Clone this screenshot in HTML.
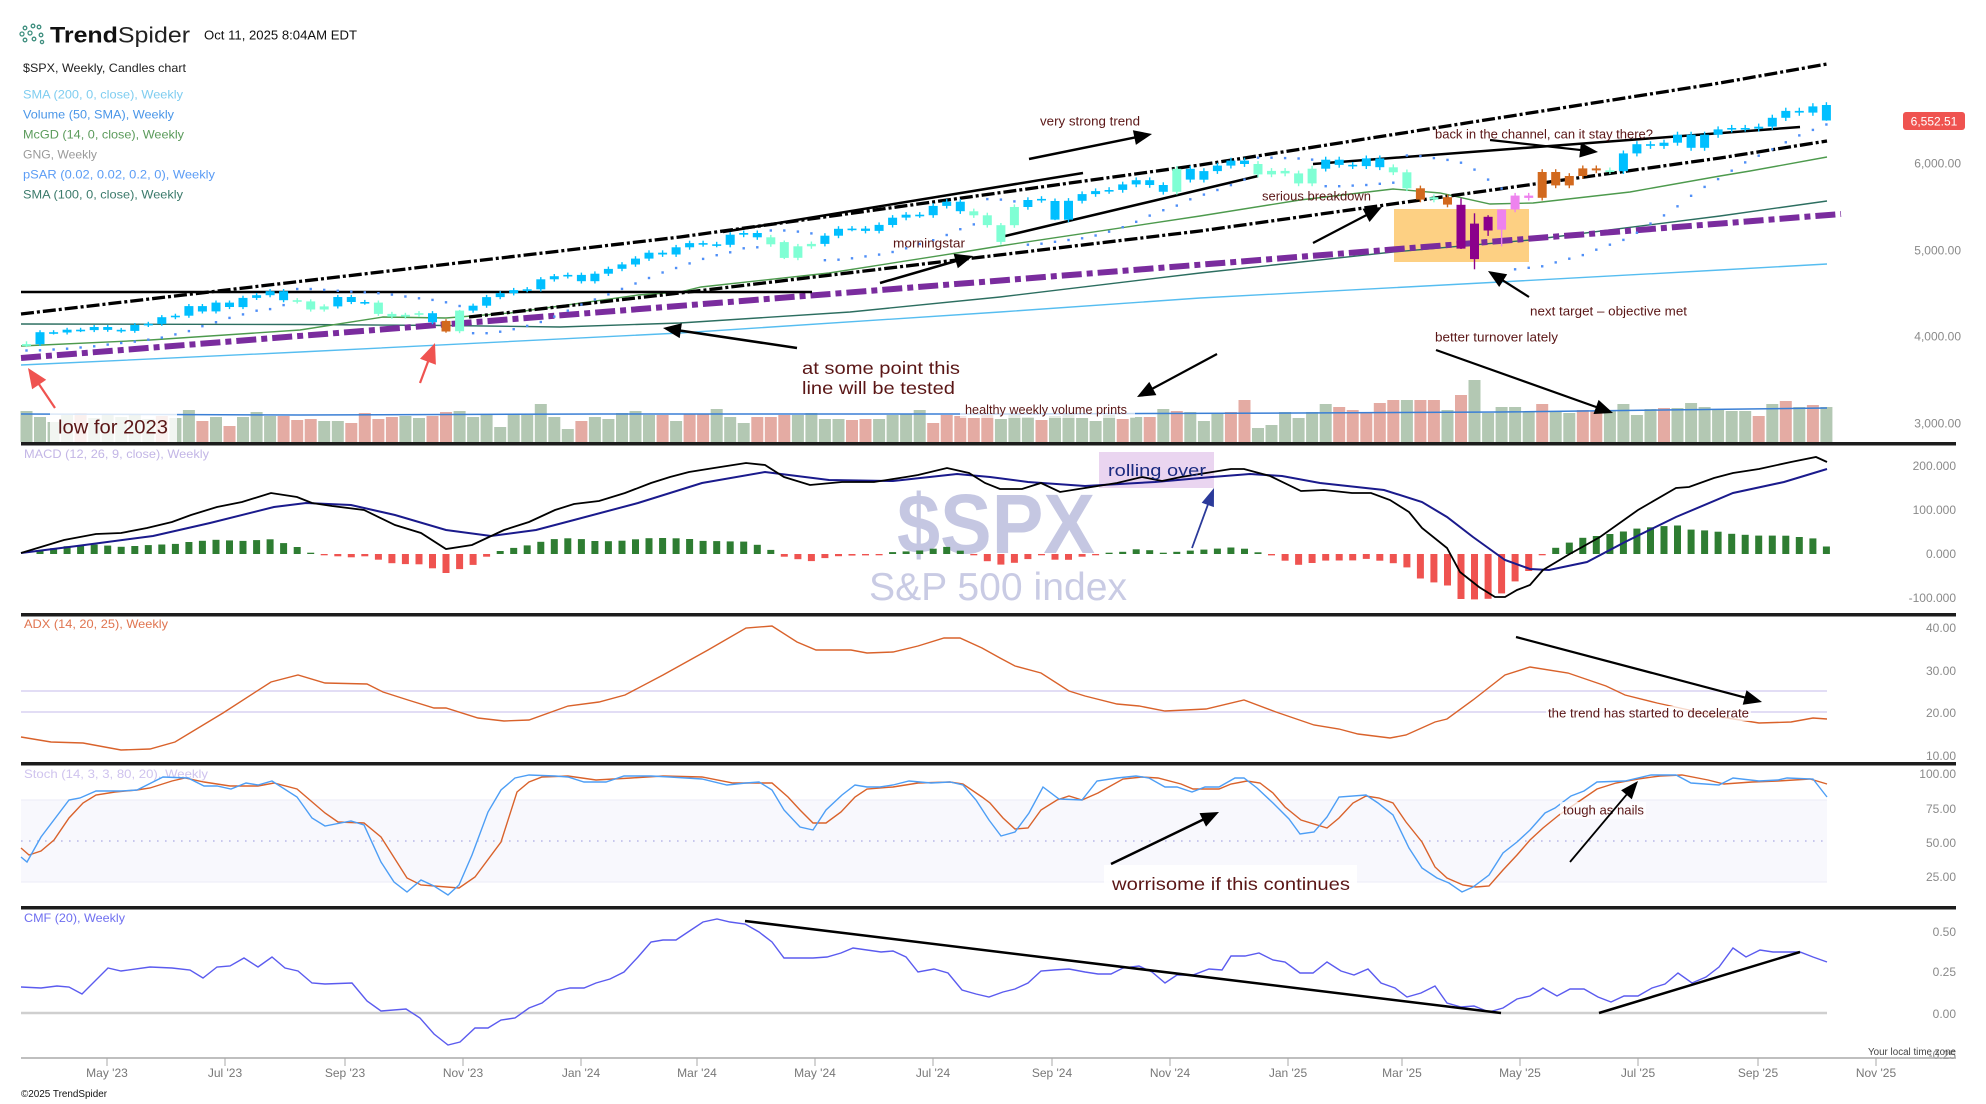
<!DOCTYPE html>
<html><head><meta charset="utf-8">
<style>
html,body{margin:0;padding:0;background:#fff;}
svg{display:block;font-family:"Liberation Sans",Arial,sans-serif;}
.ann{fill:#5a1616;font-size:12.5px;}
.big{fill:#5a1616;font-size:17.5px;}
.ax{fill:#8a8a8a;font-size:12px;}
.dt{fill:#777;font-size:12px;text-anchor:middle;}
</style></head><body>
<svg id="c" width="1986" height="1104" viewBox="0 0 1986 1104" xmlns="http://www.w3.org/2000/svg">
<rect width="1986" height="1104" fill="#fff"/>

<!-- header -->
<g fill="none" stroke="#3f8f7f" stroke-width="1.3">
<circle cx="22" cy="34" r="2"/><circle cx="25" cy="28" r="1.8"/><circle cx="25" cy="40" r="1.8"/>
<circle cx="30" cy="33" r="2"/><circle cx="33" cy="26" r="1.8"/><circle cx="34" cy="39" r="1.8"/>
<circle cx="39" cy="27" r="1.8"/><circle cx="41" cy="35" r="1.8"/><circle cx="42" cy="42" r="1.6"/>
</g>
<text x="50" y="42.5" font-size="22" fill="#111" textLength="140" lengthAdjust="spacingAndGlyphs"><tspan font-weight="bold">Trend</tspan><tspan fill="#222">Spider</tspan></text>
<text x="204" y="39.5" font-size="12.5" fill="#111" textLength="153" lengthAdjust="spacingAndGlyphs">Oct 11, 2025 8:04AM EDT</text>
<text x="23" y="72" font-size="12" fill="#222" textLength="163" lengthAdjust="spacingAndGlyphs">$SPX, Weekly, Candles chart</text>
<text x="23" y="98.5" font-size="12" fill="#7fcdf0" textLength="160" lengthAdjust="spacingAndGlyphs">SMA (200, 0, close), Weekly</text>
<text x="23" y="118.5" font-size="12" fill="#4a96e8" textLength="151" lengthAdjust="spacingAndGlyphs">Volume (50, SMA), Weekly</text>
<text x="23" y="138.5" font-size="12" fill="#5b9b5b" textLength="161" lengthAdjust="spacingAndGlyphs">McGD (14, 0, close), Weekly</text>
<text x="23" y="158.5" font-size="12" fill="#9a9a9a" textLength="74" lengthAdjust="spacingAndGlyphs">GNG, Weekly</text>
<text x="23" y="178.5" font-size="12" fill="#5b9cf5" textLength="192" lengthAdjust="spacingAndGlyphs">pSAR (0.02, 0.02, 0.2, 0), Weekly</text>
<text x="23" y="198.5" font-size="12" fill="#3b7a6b" textLength="160" lengthAdjust="spacingAndGlyphs">SMA (100, 0, close), Weekly</text>

<!-- main chart -->
<rect x="1394" y="209" width="135" height="53" fill="#fdd083"/>
<polyline fill="none" stroke="#56bdf0" stroke-width="1.4" points="21,365 300,352 680,333 1000,312 1200,298 1500,282 1720,270 1827,264"/>
<polyline fill="none" stroke="#2c6e60" stroke-width="1.4" points="21,324 300,324.5 446,325.5 560,327 680,323 850,312 1000,297 1200,273 1393,252 1530,240 1720,216 1827,201"/>
<polyline fill="none" stroke="#4d9a4d" stroke-width="1.4" points="21,346 150,340 300,330 383,317 446,318 510,313 638,295 680,292 701,287 829,273 963,252 1000,246 1200,216 1300,200 1393,189 1440,193 1490,204 1533,203 1630,192 1720,176 1750,171 1827,157"/>
<line x1="21" y1="358" x2="1841" y2="214" stroke="#7a2c9e" stroke-width="6" stroke-dasharray="20 5 6 5"/>
<polyline fill="none" stroke="#000" stroke-width="3.3" stroke-dasharray="13 3 3 3" points="21,314 680,237 1200,165 1720,83 1827,64"/>
<polyline fill="none" stroke="#000" stroke-width="3.3" stroke-dasharray="13 3 3 3" points="469,317 680,293 1200,231 1720,158 1827,141"/>
<g stroke="#000" stroke-width="2.5">
<line x1="21" y1="292" x2="812" y2="292"/>
<line x1="723" y1="232" x2="1083" y2="173"/>
<line x1="1001" y1="237" x2="1258" y2="176"/>
<line x1="1313" y1="164" x2="1800" y2="127"/>
</g>
<g id="vol"></g>
<polyline fill="none" stroke="#3a7fd5" stroke-width="1.5" points="21,414 300,415 600,414 1000,414 1300,413 1500,412 1827,408"/>
<g id="cand"></g>
<g id="psar" fill="#4f8ff7"></g>

<rect x="50" y="413" width="127" height="30" fill="#fff" fill-opacity="0.82"/>
<text x="58" y="433.5" fill="#5a1616" font-size="19" textLength="110" lengthAdjust="spacingAndGlyphs">low for 2023</text>
<rect x="960" y="402" width="175" height="16" fill="#fff" fill-opacity="0.7"/>
<text x="965" y="414" class="ann" textLength="162" lengthAdjust="spacingAndGlyphs">healthy weekly volume prints</text>
<text x="1040" y="125.5" class="ann" textLength="100" lengthAdjust="spacingAndGlyphs">very strong trend</text>
<text x="893" y="247.5" class="ann" textLength="72" lengthAdjust="spacingAndGlyphs">morningstar</text>
<text x="1262" y="200.5" class="ann" textLength="109" lengthAdjust="spacingAndGlyphs">serious breakdown</text>
<text x="1435" y="138.5" class="ann" textLength="218" lengthAdjust="spacingAndGlyphs">back in the channel, can it stay there?</text>
<text x="1530" y="315.5" class="ann" textLength="157" lengthAdjust="spacingAndGlyphs">next target – objective met</text>
<text x="1435" y="341.5" class="ann" textLength="123" lengthAdjust="spacingAndGlyphs">better turnover lately</text>
<text x="802" y="374" class="big" textLength="158" lengthAdjust="spacingAndGlyphs">at some point this</text>
<text x="802" y="394" class="big" textLength="153" lengthAdjust="spacingAndGlyphs">line will be tested</text>

<text x="1961" y="167.5" class="ax" text-anchor="end">6,000.00</text>
<text x="1961" y="254.5" class="ax" text-anchor="end">5,000.00</text>
<text x="1961" y="340.5" class="ax" text-anchor="end">4,000.00</text>
<text x="1961" y="427.5" class="ax" text-anchor="end">3,000.00</text>
<rect x="1903" y="112" width="62" height="18" rx="3" fill="#ef5350"/>
<text x="1934" y="125.5" font-size="12" fill="#fff" text-anchor="middle">6,552.51</text>

<!-- MACD -->
<text x="24" y="458" font-size="12" fill="#c3b6e6" textLength="185" lengthAdjust="spacingAndGlyphs">MACD (12, 26, 9, close), Weekly</text>
<text x="897" y="553" font-size="84" font-weight="bold" fill="#c5c7e2" textLength="198" lengthAdjust="spacingAndGlyphs">$SPX</text>
<text x="869" y="600" font-size="39" fill="#c9cbe4" textLength="258" lengthAdjust="spacingAndGlyphs">S&amp;P 500 index</text>
<rect x="1099" y="452" width="115" height="36" fill="#ead5f0"/>
<g id="hist"></g>
<polyline id="sig" fill="none" stroke="#1a1a8c" stroke-width="2" points="21,553 77,546 153,536 210,523 274,507 306,503 351,505 395,515 446,530 491,536 536,530 574,520 638,503 702,483 765,472 829,480 893,481 957,474 990,477 1028,482 1085,486 1155,482 1212,477 1250,474 1282,476 1320,483 1384,490 1422,502 1447,517 1473,537 1505,560 1530,569 1549,570 1587,562 1625,542 1676,517 1733,493 1784,482 1827,469"/>
<polyline id="mac" fill="none" stroke="#000" stroke-width="1.8" points="21,553 64,540 96,534 121,533 147,528 172,522 191,515 217,507 242,502 271,493 297,497 312,503 332,506 364,510 395,525 421,533 446,549 472,545 504,530 529,522 555,510 574,504 599,501 625,493 651,483 670,477 689,472 714,468 746,463 765,465 784,477 810,485 842,482 874,482 906,477 918,475 947,468 969,473 985,483 1000,489 1022,489 1041,483 1060,492 1085,488 1117,483 1142,477 1162,481 1181,477 1206,473 1231,469 1244,469 1270,476 1301,491 1324,490 1352,493 1371,493 1390,500 1409,512 1422,528 1447,548 1460,572 1479,587 1495,597 1505,597 1517,590 1530,585 1543,570 1568,555 1600,537 1638,510 1676,488 1689,487 1714,478 1733,473 1759,469 1791,462 1816,457 1827,462"/>
<text x="1108" y="476" font-size="17" fill="#1a2a80" textLength="98" lengthAdjust="spacingAndGlyphs">rolling over</text>
<text x="1956" y="470" class="ax" text-anchor="end">200.000</text>
<text x="1956" y="514" class="ax" text-anchor="end">100.000</text>
<text x="1956" y="558" class="ax" text-anchor="end">0.000</text>
<text x="1956" y="602" class="ax" text-anchor="end">-100.000</text>

<!-- ADX -->
<text x="24" y="628" font-size="12" fill="#e07550" textLength="144" lengthAdjust="spacingAndGlyphs">ADX (14, 20, 25), Weekly</text>
<line x1="21" y1="691" x2="1827" y2="691" stroke="#d9d2f2" stroke-width="1.5"/>
<line x1="21" y1="712" x2="1827" y2="712" stroke="#d9d2f2" stroke-width="1.5"/>
<polyline fill="none" stroke="#d9622b" stroke-width="1.4" points="21,737 51,742 83,743 121,750 150,749 175,742 223,713 271,682 298,675 325,683 367,684 383,692 408,700 434,708 446,708 478,718 504,721 529,720 568,706 599,702 625,695 663,675 708,650 746,628 772,626 797,642 816,650 851,650 867,653 893,652 918,646 944,638 960,638 982,648 1000,658 1015,666 1041,673 1069,691 1085,696 1117,704 1139,706 1165,711 1206,709 1244,700 1276,712 1314,725 1339,729 1358,734 1390,738 1406,735 1435,722 1447,719 1473,700 1505,675 1530,667 1568,673 1606,686 1625,695 1657,703 1689,710 1721,717 1759,723 1791,722 1813,718 1827,719"/>
<rect x="1546" y="706" width="205" height="15" fill="#fff" fill-opacity="0.75"/>
<text x="1548" y="717.5" class="ann" textLength="201" lengthAdjust="spacingAndGlyphs">the trend has started to decelerate</text>
<text x="1956" y="632" class="ax" text-anchor="end">40.00</text>
<text x="1956" y="675" class="ax" text-anchor="end">30.00</text>
<text x="1956" y="717" class="ax" text-anchor="end">20.00</text>
<text x="1956" y="760" class="ax" text-anchor="end">10.00</text>

<!-- Stoch -->
<rect x="21" y="800" width="1806" height="82" fill="#f8f8fd"/>
<line x1="21" y1="800" x2="1827" y2="800" stroke="#ebebf7" stroke-width="1"/>
<line x1="21" y1="882" x2="1827" y2="882" stroke="#ebebf7" stroke-width="1"/>
<line x1="21" y1="841" x2="1827" y2="841" stroke="#b8b8e8" stroke-width="1.6" stroke-dasharray="1.6 6.4"/>
<text x="24" y="778" font-size="12" fill="#cfc3ee" textLength="184" lengthAdjust="spacingAndGlyphs">Stoch (14, 3, 3, 80, 20), Weekly</text>
<polyline fill="none" stroke="#d9622b" stroke-width="1.4" points="21,848 29,855 41,851 54,840 69,818 83,803 96,795 115,792 137,790 150,788 172,781 185,778 204,782 230,786 258,786 274,783 297,789 325,813 338,822 364,823 381,837 407,878 421,885 459,888 475,877 501,842 517,792 529,782 542,777 568,776 596,780 631,778 663,776 702,777 733,783 772,783 788,797 800,810 813,823 826,823 841,812 855,797 867,789 893,787 918,783 950,782 963,784 982,797 990,803 1003,818 1015,829 1028,828 1041,810 1057,800 1069,796 1082,800 1098,793 1123,779 1142,777 1158,778 1181,784 1193,789 1219,789 1231,784 1247,781 1260,783 1273,793 1285,807 1301,820 1327,828 1339,818 1353,803 1366,796 1379,798 1393,803 1406,822 1422,842 1435,867 1447,878 1463,885 1476,887 1489,886 1503,870 1517,855 1530,840 1543,828 1559,815 1581,800 1597,789 1616,783 1638,779 1660,776 1682,775 1708,780 1724,784 1752,782 1778,781 1810,779 1827,784"/>
<polyline fill="none" stroke="#4d9ef5" stroke-width="1.4" points="21,857 27,862 41,837 69,800 80,798 96,791 121,791 137,790 163,777 188,778 204,786 217,786 231,789 246,783 258,785 272,781 297,797 312,818 325,826 351,821 364,825 381,862 394,882 407,892 421,880 434,886 448,895 459,885 472,855 488,812 501,790 515,778 529,775 555,776 568,777 584,782 606,782 624,776 651,776 670,777 702,779 727,785 746,783 759,782 772,790 784,810 800,827 813,830 826,810 842,795 855,785 867,787 880,787 893,785 909,781 931,783 950,782 963,785 976,800 989,820 1001,836 1015,832 1029,813 1043,787 1059,799 1082,800 1097,781 1117,778 1136,776 1149,778 1165,787 1177,787 1192,792 1205,787 1219,787 1235,778 1244,778 1257,788 1273,803 1289,819 1300,834 1314,832 1327,817 1339,797 1366,795 1378,803 1393,815 1409,848 1422,868 1437,878 1449,883 1462,892 1473,887 1489,875 1503,853 1517,842 1530,830 1545,813 1555,808 1571,796 1584,791 1597,782 1625,781 1651,775 1676,775 1691,783 1719,785 1733,778 1759,781 1778,780 1787,778 1813,779 1827,797"/>
<rect x="1104" y="865" width="253" height="28" fill="#fff" fill-opacity="0.9"/>
<text x="1112" y="890" class="big" textLength="238" lengthAdjust="spacingAndGlyphs">worrisome if this continues</text>
<rect x="1560" y="802" width="86" height="17" fill="#fff" fill-opacity="0.75"/>
<text x="1563" y="814.5" class="ann" textLength="81" lengthAdjust="spacingAndGlyphs">tough as nails</text>
<text x="1956" y="778" class="ax" text-anchor="end">100.00</text>
<text x="1956" y="813" class="ax" text-anchor="end">75.00</text>
<text x="1956" y="847" class="ax" text-anchor="end">50.00</text>
<text x="1956" y="881" class="ax" text-anchor="end">25.00</text>

<!-- CMF -->
<text x="24" y="922" font-size="12" fill="#6f6ff0" textLength="101" lengthAdjust="spacingAndGlyphs">CMF (20), Weekly</text>
<line x1="21" y1="1013" x2="1827" y2="1013" stroke="#cfcfcf" stroke-width="2.5"/>
<polyline fill="none" stroke="#5b5bef" stroke-width="1.4" points="21,987 41,988 57,986 69,987 82,994 96,980 108,968 121,971 150,967 172,968 190,970 203,978 217,967 230,966 244,958 258,967 272,957 285,968 298,971 312,983 325,984 352,983 367,1001 381,1011 406,1009 420,1018 434,1034 448,1045 460,1042 475,1028 488,1028 501,1020 515,1018 529,1008 542,1003 557,991 570,988 584,988 596,983 610,979 624,972 638,957 651,942 663,940 676,940 691,930 703,922 717,919 730,922 745,924 759,932 772,942 784,958 800,958 813,958 827,957 841,953 853,948 867,950 881,952 893,951 906,957 918,972 934,969 948,973 962,990 976,994 989,997 1003,992 1015,989 1028,983 1041,971 1054,970 1069,969 1085,972 1098,974 1111,974 1123,968 1139,966 1152,972 1165,983 1177,975 1193,975 1209,969 1222,970 1231,956 1245,956 1259,953 1273,960 1285,962 1300,973 1313,973 1327,962 1341,971 1354,975 1368,969 1381,983 1395,988 1407,997 1421,993 1435,986 1447,1003 1461,1007 1474,1006 1489,1012 1503,1008 1517,999 1530,996 1543,988 1557,996 1570,989 1584,989 1598,997 1611,1002 1624,996 1638,996 1652,988 1665,984 1678,973 1692,983 1706,977 1719,967 1733,948 1746,957 1760,950 1773,952 1786,952 1800,952 1813,957 1827,962"/>
<line x1="745" y1="921" x2="1501" y2="1013" stroke="#000" stroke-width="2.5"/>
<line x1="1599" y1="1013" x2="1800" y2="952" stroke="#000" stroke-width="2.5"/>
<text x="1956" y="936" class="ax" text-anchor="end">0.50</text>
<text x="1956" y="976" class="ax" text-anchor="end">0.25</text>
<text x="1956" y="1018" class="ax" text-anchor="end">0.00</text>
<text x="1956" y="1059" class="ax" text-anchor="end">-0.25</text>
<text x="1956" y="1055" font-size="10" fill="#444" text-anchor="end" textLength="88" lengthAdjust="spacingAndGlyphs">Your local time zone</text>

<!-- separators -->
<g fill="#1c1c1c">
<rect x="21" y="442" width="1935" height="3.5"/>
<rect x="21" y="613" width="1935" height="3.5"/>
<rect x="21" y="762" width="1935" height="3.5"/>
<rect x="21" y="906" width="1935" height="3.5"/>
</g>

<!-- x axis -->
<line x1="21" y1="1058" x2="1956" y2="1058" stroke="#aaa" stroke-width="1.5"/>
<g stroke="#aaa" stroke-width="1">
<line x1="107" y1="1058" x2="107" y2="1066"/><line x1="225" y1="1058" x2="225" y2="1066"/><line x1="345" y1="1058" x2="345" y2="1066"/><line x1="463" y1="1058" x2="463" y2="1066"/><line x1="581" y1="1058" x2="581" y2="1066"/><line x1="697" y1="1058" x2="697" y2="1066"/><line x1="815" y1="1058" x2="815" y2="1066"/><line x1="933" y1="1058" x2="933" y2="1066"/><line x1="1052" y1="1058" x2="1052" y2="1066"/><line x1="1170" y1="1058" x2="1170" y2="1066"/><line x1="1288" y1="1058" x2="1288" y2="1066"/><line x1="1402" y1="1058" x2="1402" y2="1066"/><line x1="1520" y1="1058" x2="1520" y2="1066"/><line x1="1638" y1="1058" x2="1638" y2="1066"/><line x1="1758" y1="1058" x2="1758" y2="1066"/><line x1="1876" y1="1058" x2="1876" y2="1066"/>
</g>
<text x="107" y="1077" class="dt">May '23</text><text x="225" y="1077" class="dt">Jul '23</text><text x="345" y="1077" class="dt">Sep '23</text><text x="463" y="1077" class="dt">Nov '23</text><text x="581" y="1077" class="dt">Jan '24</text><text x="697" y="1077" class="dt">Mar '24</text><text x="815" y="1077" class="dt">May '24</text><text x="933" y="1077" class="dt">Jul '24</text><text x="1052" y="1077" class="dt">Sep '24</text><text x="1170" y="1077" class="dt">Nov '24</text><text x="1288" y="1077" class="dt">Jan '25</text><text x="1402" y="1077" class="dt">Mar '25</text><text x="1520" y="1077" class="dt">May '25</text><text x="1638" y="1077" class="dt">Jul '25</text><text x="1758" y="1077" class="dt">Sep '25</text><text x="1876" y="1077" class="dt">Nov '25</text>
<text x="21" y="1097" font-size="10.5" fill="#111" textLength="86" lengthAdjust="spacingAndGlyphs">©2025 TrendSpider</text>

<g id="arrows"></g>
</svg>
<script>
(function(){
var NS="http://www.w3.org/2000/svg";
function el(p,t,a){var e=document.createElementNS(NS,t);for(var k in a)e.setAttribute(k,a[k]);p.appendChild(e);return e;}
var C=[3971,4109,4105,4137,4133,4169,4136,4124,4192,4205,4282,4299,4410,4348,4450,4399,4505,4536,4582,4478,4464,4370,4406,4515,4457,4450,4320,4288,4309,4328,4224,4117,4358,4415,4514,4559,4595,4604,4719,4755,4770,4697,4784,4840,4891,4959,5027,5006,5089,5137,5124,5117,5234,5254,5204,5123,4967,5100,5128,5223,5303,5305,5278,5347,5431,5465,5460,5567,5615,5505,5459,5346,5344,5554,5635,5648,5408,5626,5703,5738,5751,5815,5864,5808,5729,5995,5870,5969,6032,6090,6051,5931,5971,5942,5827,5997,6101,6041,6026,6115,6013,5955,5770,5639,5667,5581,5074,5363,5283,5525,5686,5660,5958,5803,5912,6000,5977,5968,6173,6279,6260,6297,6389,6238,6389,6450,6467,6460,6482,6584,6664,6644,6716,6553];
var N=C.length;
function X(i){return 26.5+13.533*i;}
function Y(p){return 688-0.0866*p;}
var O=[],H=[],L=[];
for(var i=0;i<N;i++){O[i]=i==0?3950:C[i-1];H[i]=Math.max(O[i],C[i])*1.0055;L[i]=Math.min(O[i],C[i])*0.9945;}
var ov={0:[3950,4003,3937],31:[4239,4259,4103],32:[4120,4366,4097],56:[5149,5168,4953],72:[5151,5370,5119],76:[5623,5652,5402],106:[5580,5655,5069],107:[4953,5481,4835],108:[5441,5460,5221],109:[5292,5528,5101],133:[6732,6764,6550]};
for(var k in ov){O[k]=ov[k][0];H[k]=ov[k][1];L[k]=ov[k][2];}
var col=[];
for(i=0;i<N;i++)col[i]="#00bfff";
[0,20,21,22,26,27,28,29,32,55,56,57,58,70,71,72,73,85,91,92,93,94,95,101,102,104,117].forEach(function(j){col[j]="#7fffd4";});
[31,103,105,112,113,114,115,116].forEach(function(j){col[j]="#d2691e";});
[106,107,108].forEach(function(j){col[j]="#8b008b";});
[109,110,111].forEach(function(j){col[j]="#ee82ee";});
var vt=[411,417,422,415,413,418,415,417,414,419,416,418,410,421,417,426,417,412,416,416,420,419,421,421,423,413,419,417,416,418,416,412,411,417,415,427,414,415,404,417,429,421,417,419,413,411,415,415,421,414,414,409,417,423,417,417,415,415,413,419,419,420,419,419,415,414,410,423,415,416,418,415,419,413,417,420,416,414,418,421,415,419,417,417,409,411,412,421,413,412,400,428,425,412,418,412,404,407,410,413,403,400,400,400,400,410,395,380,413,407,407,411,404,411,413,410,411,411,404,415,409,408,408,403,407,409,411,411,416,404,401,407,405,407];
var vc="ggggpgggggpggpgpgggpppggppppggppgggggggggpgggggpgppgggpppggggppggggpppppgggpgggggpgpgpgggppggggggpppppgppgpgggggpggppggggpggggggpgpgp";
var gv=document.getElementById("vol");
for(i=0;i<N;i++){var t=vt[i]||416;el(gv,"rect",{x:(X(i)-6).toFixed(1),y:t,width:12,height:(442-t),fill:(vc[i]=="p"?"#e4aba3":"#b3c8b3")});}
var gc=document.getElementById("cand");
for(i=0;i<N;i++){
 var x=X(i);
 el(gc,"line",{x1:x.toFixed(1),x2:x.toFixed(1),y1:Y(H[i]).toFixed(1),y2:Y(L[i]).toFixed(1),stroke:col[i],"stroke-width":1.4});
 var t1=Y(Math.max(O[i],C[i])),b1=Y(Math.min(O[i],C[i]));
 var hh=Math.max(b1-t1,1.6);
 el(gc,"rect",{x:(x-4.5).toFixed(1),y:t1.toFixed(1),width:9,height:hh.toFixed(1),fill:col[i]});
}
var up=true,sar=L[0]*0.99,ep=H[0],af=0.02,ps=[sar];
for(i=1;i<N;i++){
 sar=sar+af*(ep-sar);
 if(up){sar=Math.min(sar,L[i-1],i>1?L[i-2]:L[i-1]);
  if(L[i]<sar){up=false;sar=ep;ep=L[i];af=0.02;}
  else if(H[i]>ep){ep=H[i];af=Math.min(af+0.02,0.2);}
 }else{sar=Math.max(sar,H[i-1],i>1?H[i-2]:H[i-1]);
  if(H[i]>sar){up=true;sar=ep;ep=H[i];af=0.02;}
  else if(L[i]<ep){ep=L[i];af=Math.min(af+0.02,0.2);}
 }
 ps.push(sar);
}
var gp=document.getElementById("psar");
for(i=0;i<N;i++){el(gp,"rect",{x:(X(i)-1.2).toFixed(1),y:(Y(ps[i])-1.2).toFixed(1),width:2.4,height:2.4});}
function pts(id){return document.getElementById(id).getAttribute("points").trim().split(/\s+/).map(function(s){var a=s.split(",");return [+a[0],+a[1]];});}
function interp(P,x){if(x<=P[0][0])return P[0][1];for(var k=1;k<P.length;k++){if(x<=P[k][0]){var a=P[k-1],b=P[k];return a[1]+(b[1]-a[1])*(x-a[0])/(b[0]-a[0]);}}return P[P.length-1][1];}
var M=pts("mac"),S=pts("sig");
var gh=document.getElementById("hist");
for(i=1;i<N;i++){
 var xx=X(i);var h=interp(S,xx)-interp(M,xx);
 if(Math.abs(h)<1.3)h=h<0?-1.3:1.3;
 if(h>0)el(gh,"rect",{x:(xx-3.5).toFixed(1),y:(554-h).toFixed(1),width:7,height:h.toFixed(1),fill:"#2e7d32"});
 else el(gh,"rect",{x:(xx-3.5).toFixed(1),y:554,width:7,height:(-h).toFixed(1),fill:"#ef5350"});
}
var ga=document.getElementById("arrows");
function arrow(x1,y1,x2,y2,c,w,hl,hw){
 var dx=x2-x1,dy=y2-y1,len=Math.sqrt(dx*dx+dy*dy),ux=dx/len,uy=dy/len,px=-uy,py=ux;
 var bx=x2-ux*hl,by=y2-uy*hl;
 el(ga,"line",{x1:x1,y1:y1,x2:(bx+ux*2).toFixed(1),y2:(by+uy*2).toFixed(1),stroke:c,"stroke-width":w});
 el(ga,"polygon",{points:x2+","+y2+" "+(bx+px*hw/2).toFixed(1)+","+(by+py*hw/2).toFixed(1)+" "+(bx-px*hw/2).toFixed(1)+","+(by-py*hw/2).toFixed(1),fill:c});
}
arrow(1029,159,1152,134,"#000",2.5,18,15);
arrow(880,283,973,256,"#000",2.5,18,15);
arrow(797,348,663,328,"#000",2.5,18,15);
arrow(1313,243,1382,207,"#000",2.2,18,15);
arrow(1490,140,1598,152,"#000",2.2,18,15);
arrow(1529,297,1488,271,"#000",2.2,18,15);
arrow(1436,350,1613,413,"#000",2.2,18,15);
arrow(1217,354,1137,397,"#000",2.2,18,15);
arrow(1516,637,1762,702,"#000",2.2,18,15);
arrow(1111,864,1219,812,"#000",2.5,18,15);
arrow(1570,862,1638,781,"#000",1.8,18,14);
arrow(55,408,28,368,"#ef5350",2.2,20,17);
arrow(420,383,435,343,"#ef5350",2.2,20,17);
arrow(1192,548,1214,488,"#2b3a9a",1.8,18,13);
})();
</script>
</body></html>
